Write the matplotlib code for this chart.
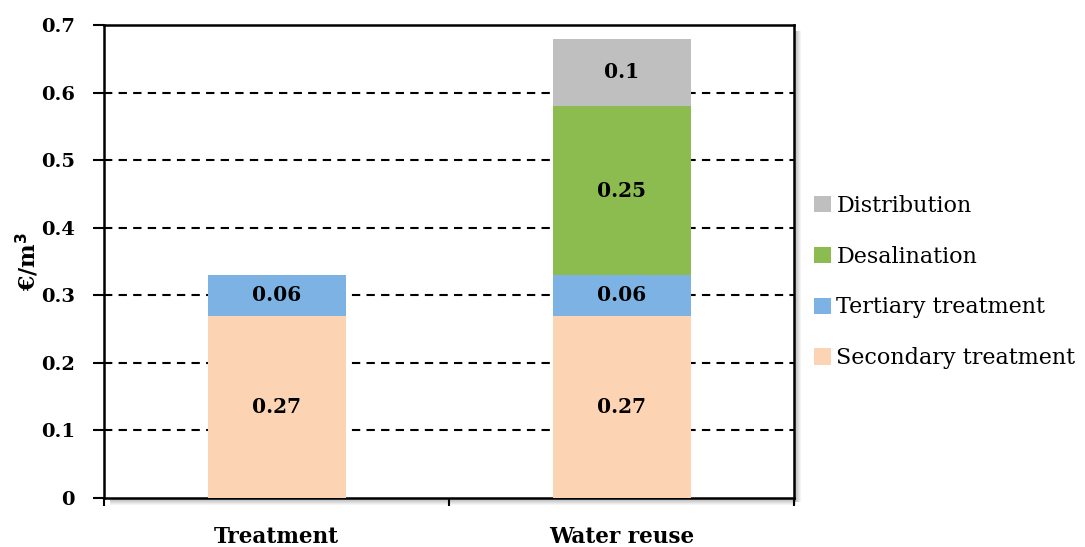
import numpy as np
import matplotlib.pyplot as plt
from matplotlib.patches import Rectangle

# data
categories = ['Treatment', 'Water reuse']
series = ['Secondary treatment', 'Tertiary treatment', 'Desalination', 'Distribution']
secondary = [0.27, 0.27]
tertiary = [0.06, 0.06]
desalination = [0.0, 0.25]
distribution = [0.0, 0.1]
colors = ['#FDD4B3', '#7DB3E4', '#8CBC50', '#BFBFBF']

plt.rcParams['font.family'] = 'DejaVu Serif'

fig = plt.figure(figsize=(10.85, 5.47), dpi=100)
W, H = 1085, 547
x0, x1, y0, y1 = 104, 794, 25, 498
ax = fig.add_axes([x0 / W, 1 - y1 / H, (x1 - x0) / W, (y1 - y0) / H])

# shadow round the plot area
for i in range(1, 8):
    a = 0.35 * (1 - i / 8)
    fig.patches.append(Rectangle(((x1 + i - 1) / W, 1 - (y1 + 4) / H), 1 / W, (y1 - y0 - 2) / H,
                                 transform=fig.transFigure, color='black', alpha=a, lw=0))
    fig.patches.append(Rectangle(((x0 + 6) / W, 1 - (y1 + i) / H), (x1 - x0 - 4) / W, 1 / H,
                                 transform=fig.transFigure, color='black', alpha=a, lw=0))

pos = np.arange(len(categories)) + 0.5
values = [secondary, tertiary, desalination, distribution]
bottom = np.zeros(len(categories))
handles = []
for name, vals, c in zip(series, values, colors):
    vals = np.array(vals)
    b = ax.bar(pos, vals, 0.4, bottom=bottom, color=c, label=name, zorder=3)
    handles.append(b)
    for p, v, bt in zip(pos, vals, bottom):
        if v > 0:
            ax.text(p, bt + v / 2, f'{v:g}', ha='center', va='center',
                    fontsize=14.5, fontweight='bold', zorder=4)
    bottom += vals

ax.set_xlim(0, 2)
ax.set_ylim(0, 0.7)
ax.set_yticks(np.arange(0, 0.71, 0.1))
ax.set_yticklabels(['0', '0.1', '0.2', '0.3', '0.4', '0.5', '0.6', '0.7'],
                   fontsize=14, fontweight='bold')
ax.set_xticks([0, 1, 2])
ax.set_xticklabels([])
ax.set_xticks(pos, minor=True)
ax.set_xticklabels(categories, minor=True, fontsize=15.5, fontweight='bold')
ax.tick_params(axis='x', which='minor', length=0, pad=20)
ax.tick_params(axis='x', which='major', length=6, width=1.5, direction='out')
ax.tick_params(axis='y', length=8, width=1.5, direction='out', pad=13)

for y in np.arange(0.1, 0.65, 0.1):
    ax.axhline(y, color='black', ls=(0, (4, 3)), lw=1.5, zorder=1)

for s in ax.spines.values():
    s.set_linewidth(1.8)

ax.set_ylabel('€/m$^{\\mathbf{3}}$', fontsize=16, fontweight='bold', labelpad=0)

leg = fig.legend(handles[::-1], series[::-1], loc='center left',
                 bbox_to_anchor=(803 / W, 1 - 282 / H), frameon=False,
                 fontsize=16, borderpad=0, handlelength=0.75, handleheight=0.75,
                 handletextpad=0.25, labelspacing=1.3)

fig.savefig('out.png', dpi=100)
